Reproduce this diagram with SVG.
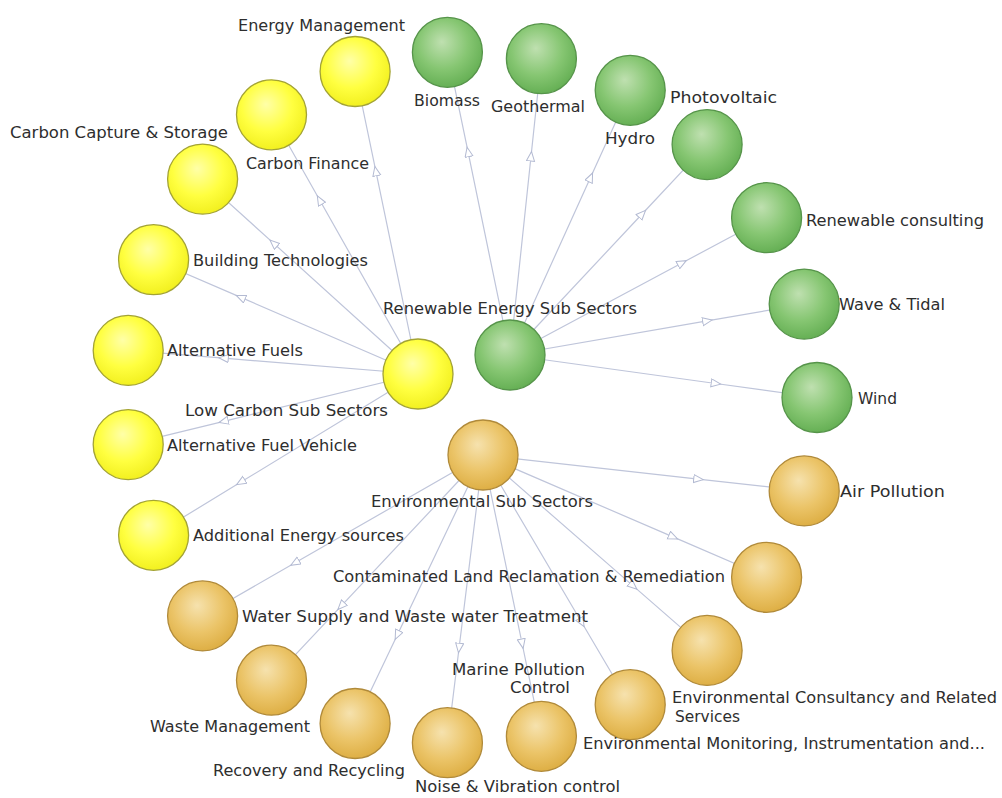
<svg xmlns="http://www.w3.org/2000/svg" width="1002" height="798" viewBox="0 0 1002 798">
<style>
.edge{fill:none;stroke:#bfc5da;stroke-width:1.2;marker-mid:url(#arr)}
.n{stroke-width:1.3}
.y{fill:url(#gy);stroke:#a3a335}
.g{fill:url(#gg);stroke:#56944a}
.o{fill:url(#go);stroke:#b08a3a}
text{font-family:"DejaVu Sans","Liberation Sans",sans-serif;font-size:15px;fill:#2e2e2e}
.c{text-anchor:middle}
</style>
<defs>
<radialGradient id="gy" cx="0.45" cy="0.4" r="0.6" fx="0.42" fy="0.35">
<stop offset="0" stop-color="#ffffa8"/><stop offset="0.6" stop-color="#ffff40"/><stop offset="1" stop-color="#f2f020"/>
</radialGradient>
<radialGradient id="gg" cx="0.45" cy="0.4" r="0.6" fx="0.42" fy="0.35">
<stop offset="0" stop-color="#bfe0b0"/><stop offset="0.6" stop-color="#86c672"/><stop offset="1" stop-color="#66b055"/>
</radialGradient>
<radialGradient id="go" cx="0.45" cy="0.4" r="0.6" fx="0.42" fy="0.35">
<stop offset="0" stop-color="#f6e2ae"/><stop offset="0.6" stop-color="#ebc468"/><stop offset="1" stop-color="#deaf45"/>
</radialGradient>
<marker id="arr" markerUnits="userSpaceOnUse" markerWidth="12" markerHeight="10" refX="5" refY="4.5" orient="auto">
<path d="M0.5,0.5 L10,4.5 L0.5,8.5 Z" fill="#ffffff" stroke="#b3bad2" stroke-width="1"/>
</marker>
</defs>
<rect width="1002" height="798" fill="#ffffff"/>
<g id="connectors">
<path class="edge" d="M418,374 L375.9,171.3 L355.1,71.5"/>
<path class="edge" d="M418,374 L319.8,200.3 L271.5,114.8"/>
<path class="edge" d="M418,374 L273.7,243.4 L202.6,179.1"/>
<path class="edge" d="M418,374 L240.9,297.4 L153.6,259.7"/>
<path class="edge" d="M418,374 L223.8,358.2 L128.2,350.4"/>
<path class="edge" d="M418,374 L223.8,421.3 L128.2,444.6"/>
<path class="edge" d="M418,374 L240.9,482.1 L153.6,535.3"/>
<path class="edge" d="M510,355 L468.1,152.2 L447.4,52.3"/>
<path class="edge" d="M510,355 L531,156.5 L541.4,58.7"/>
<path class="edge" d="M510,355 L590.5,177.6 L630.2,90.3"/>
<path class="edge" d="M510,355 L642.1,214 L707.1,144.6"/>
<path class="edge" d="M510,355 L681.9,263 L766.6,217.7"/>
<path class="edge" d="M510,355 L707.1,320.9 L804.2,304.1"/>
<path class="edge" d="M510,355 L715.7,383.5 L817,397.5"/>
<path class="edge" d="M483,455 L698.2,479.1 L804.2,490.9"/>
<path class="edge" d="M483,455 L673,536.9 L766.6,577.3"/>
<path class="edge" d="M483,455 L633.1,585.9 L707.1,650.4"/>
<path class="edge" d="M483,455 L581.6,622.3 L630.2,704.7"/>
<path class="edge" d="M483,455 L522.1,643.5 L541.4,736.3"/>
<path class="edge" d="M483,455 L459.1,647.8 L447.4,742.7"/>
<path class="edge" d="M483,455 L397.3,634.9 L355.1,723.5"/>
<path class="edge" d="M483,455 L341.3,605.9 L271.5,680.2"/>
<path class="edge" d="M483,455 L295.1,562.8 L202.6,615.9"/>
</g>
<g id="n-low-carbon"><circle class="n y" cx="418" cy="374" r="35"/><text x="185" y="416" textLength="203" lengthAdjust="spacingAndGlyphs">Low Carbon Sub Sectors</text></g>
<g id="n-renewable"><circle class="n g" cx="510" cy="355" r="35"/><text x="383" y="314" textLength="254" lengthAdjust="spacingAndGlyphs">Renewable Energy Sub Sectors</text></g>
<g id="n-environmental"><circle class="n o" cx="483" cy="455" r="35"/><text x="371" y="507" textLength="222" lengthAdjust="spacingAndGlyphs">Environmental Sub Sectors</text></g>

<g id="n-energy-management"><circle class="n y" cx="355.1" cy="71.5" r="35"/><text x="238" y="31" textLength="167" lengthAdjust="spacingAndGlyphs">Energy Management</text></g>
<g id="n-carbon-finance"><circle class="n y" cx="271.5" cy="114.8" r="35"/><text x="246" y="169" textLength="123" lengthAdjust="spacingAndGlyphs">Carbon Finance</text></g>
<g id="n-carbon-capture"><circle class="n y" cx="202.6" cy="179.1" r="35"/><text x="10" y="138" textLength="218" lengthAdjust="spacingAndGlyphs">Carbon Capture &amp; Storage</text></g>
<g id="n-building"><circle class="n y" cx="153.6" cy="259.7" r="35"/><text x="193" y="266" textLength="175" lengthAdjust="spacingAndGlyphs">Building Technologies</text></g>
<g id="n-alt-fuels"><circle class="n y" cx="128.2" cy="350.4" r="35"/><text x="167" y="356" textLength="136" lengthAdjust="spacingAndGlyphs">Alternative Fuels</text></g>
<g id="n-afv"><circle class="n y" cx="128.2" cy="444.6" r="35"/><text x="167" y="451" textLength="190" lengthAdjust="spacingAndGlyphs">Alternative Fuel Vehicle</text></g>
<g id="n-additional"><circle class="n y" cx="153.6" cy="535.3" r="35"/><text x="193" y="541" textLength="211" lengthAdjust="spacingAndGlyphs">Additional Energy sources</text></g>

<g id="n-biomass"><circle class="n g" cx="447.4" cy="52.3" r="35"/><text class="c" x="447" y="106" textLength="66" lengthAdjust="spacingAndGlyphs">Biomass</text></g>
<g id="n-geothermal"><circle class="n g" cx="541.4" cy="58.7" r="35"/><text class="c" x="538" y="112" textLength="94" lengthAdjust="spacingAndGlyphs">Geothermal</text></g>
<g id="n-hydro"><circle class="n g" cx="630.2" cy="90.3" r="35"/><text class="c" x="630" y="144" textLength="50" lengthAdjust="spacingAndGlyphs">Hydro</text></g>
<g id="n-photovoltaic"><circle class="n g" cx="707.1" cy="144.6" r="35"/><text x="670" y="103" textLength="107" lengthAdjust="spacingAndGlyphs">Photovoltaic</text></g>
<g id="n-renewable-consulting"><circle class="n g" cx="766.6" cy="217.7" r="35"/><text x="806" y="226" textLength="178" lengthAdjust="spacingAndGlyphs">Renewable consulting</text></g>
<g id="n-wave"><circle class="n g" cx="804.2" cy="304.1" r="35"/><text x="839" y="310" textLength="106" lengthAdjust="spacingAndGlyphs">Wave &amp; Tidal</text></g>
<g id="n-wind"><circle class="n g" cx="817" cy="397.5" r="35"/><text x="858" y="404" textLength="39" lengthAdjust="spacingAndGlyphs">Wind</text></g>

<g id="n-air"><circle class="n o" cx="804.2" cy="490.9" r="35"/><text x="840" y="497" textLength="105" lengthAdjust="spacingAndGlyphs">Air Pollution</text></g>
<g id="n-contaminated"><circle class="n o" cx="766.6" cy="577.3" r="35"/><text x="333" y="582" textLength="392" lengthAdjust="spacingAndGlyphs">Contaminated Land Reclamation &amp; Remediation</text></g>
<g id="n-consultancy"><circle class="n o" cx="707.1" cy="650.4" r="35"/><text x="672" y="703" textLength="325" lengthAdjust="spacingAndGlyphs">Environmental Consultancy and Related</text><text x="675" y="722" textLength="65" lengthAdjust="spacingAndGlyphs">Services</text></g>
<g id="n-monitoring"><circle class="n o" cx="630.2" cy="704.7" r="35"/><text x="583" y="749" textLength="402" lengthAdjust="spacingAndGlyphs">Environmental Monitoring, Instrumentation and...</text></g>
<g id="n-marine"><circle class="n o" cx="541.4" cy="736.3" r="35"/><text x="452" y="675" textLength="133" lengthAdjust="spacingAndGlyphs">Marine Pollution</text><text x="510" y="693" textLength="60" lengthAdjust="spacingAndGlyphs">Control</text></g>
<g id="n-noise"><circle class="n o" cx="447.4" cy="742.7" r="35"/><text x="415" y="792" textLength="205" lengthAdjust="spacingAndGlyphs">Noise &amp; Vibration control</text></g>
<g id="n-recovery"><circle class="n o" cx="355.1" cy="723.5" r="35"/><text x="213" y="776" textLength="192" lengthAdjust="spacingAndGlyphs">Recovery and Recycling</text></g>
<g id="n-waste"><circle class="n o" cx="271.5" cy="680.2" r="35"/><text x="150" y="732" textLength="160" lengthAdjust="spacingAndGlyphs">Waste Management</text></g>
<g id="n-water"><circle class="n o" cx="202.6" cy="615.9" r="35"/><text x="242" y="622" textLength="346" lengthAdjust="spacingAndGlyphs">Water Supply and Waste water Treatment</text></g>
</svg>
